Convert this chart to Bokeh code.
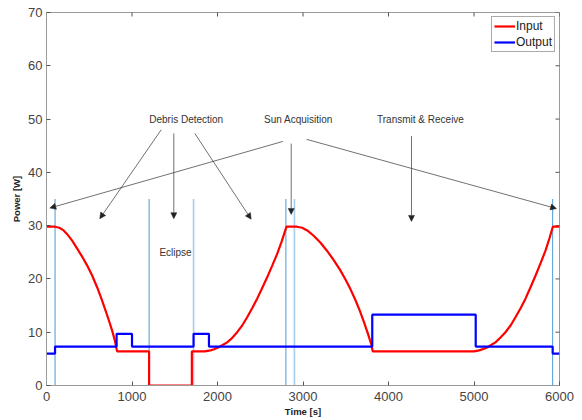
import math
from bokeh.plotting import figure
from bokeh.models import (Arrow, NormalHead, ColumnDataSource, Range1d,
                          Legend, LegendItem)
from bokeh.core.properties import value
from bokeh.embed import file_html
from bokeh.resources import INLINE

# ---------------- data ----------------
input_t = [0, 100, 150, 200, 242, 300, 359, 420, 476, 535, 593, 640, 690, 730, 768, 800, 826,
           1200, 1200, 1700, 1700, 1850, 1918, 1960, 2015, 2060, 2113, 2170, 2230, 2290, 2347,
           2405, 2464, 2520, 2581, 2640, 2698, 2750, 2807, 2930, 2990, 3049, 3125, 3205, 3280,
           3361, 3430, 3497, 3560, 3614, 3665, 3711, 3760, 3801, 3815, 5000, 5060, 5135, 5190,
           5251, 5310, 5368, 5430, 5485, 5545, 5602, 5660, 5719, 5780, 5836, 5880, 5922, 6000]
input_p = [29.8, 29.8, 29.6, 29.1, 28.4, 27.2, 25.7, 24.1, 22.5, 20.6, 18.4, 16.4, 14.1, 12.2,
           10.3, 8.4, 6.4,
           6.4, 0.0, 0.0, 6.4, 6.4, 6.6, 6.8, 7.2, 7.6, 8.1, 8.9, 10.0, 11.3, 12.8,
           14.5, 16.3, 18.2, 20.3, 22.5, 24.7, 27.0, 29.8, 29.8, 29.6, 29.1, 28.1, 26.8, 25.3,
           23.5, 21.8, 19.9, 17.9, 16.0, 14.0, 12.0, 9.7, 7.6, 6.4, 6.4, 6.6, 7.0, 7.5,
           8.1, 9.0, 10.0, 11.3, 12.8, 14.5, 16.3, 18.4, 20.6, 23.0, 25.3, 27.5, 29.8, 29.8]

output_t = [0, 100, 820, 1000, 1720, 1900, 3810, 5020, 5920, 6000]
output_p = [6.0, 7.3, 9.7, 7.3, 9.7, 7.3, 13.3, 7.3, 6.0, 6.0]

event_strong = [100, 1200, 2800, 5920]
event_faint = [1720, 2900]
event_top = 35

annot_text = ["Debris Detection", "Sun Acquisition", "Transmit & Receive", "Eclipse"]
annot_x = [1634, 2947, 4374, 1509]
annot_y = [50, 50, 50, 25]

arrow_x0 = [1342, 1489, 1735, 2764, 2862, 3041, 4269]
arrow_y0 = [48.0, 47.3, 47.3, 45.8, 45.4, 46.2, 46.8]
arrow_x1 = [623, 1489, 2394, 39, 2862, 5965, 4269]
arrow_y1 = [31.3, 31.3, 31.2, 33.3, 32.1, 33.2, 30.8]

x_ticks = [0, 1000, 2000, 3000, 4000, 5000, 6000]
y_ticks = [0, 10, 20, 30, 40, 50, 60, 70]

X_MIN, X_MAX = 0, 6000
Y_MIN, Y_MAX = 0, 70

FONT = "Liberation Sans"
AX = "#9a9a9a"
TXT = "#444444"

p = figure(width=582, height=420, x_range=Range1d(X_MIN, X_MAX), y_range=Range1d(Y_MIN, Y_MAX),
           output_backend="svg", toolbar_location=None,
           min_border_left=46, min_border_top=12, min_border_right=23, min_border_bottom=35)
p.xgrid.visible = False
p.ygrid.visible = False
p.outline_line_color = AX
p.background_fill_color = "white"

for ax, lab in ((p.xaxis[0], "Time [s]"), (p.yaxis[0], "Power [W]")):
    ax.axis_label = lab
    ax.axis_label_text_font = FONT
    ax.axis_label_text_font_style = "bold"
    ax.axis_label_text_font_size = "9.5px"
    ax.axis_label_text_color = "#222222"
    ax.major_label_text_font = FONT
    ax.major_label_text_font_size = "13px"
    ax.major_label_text_color = TXT
    ax.major_tick_in = 4
    ax.major_tick_out = 0
    ax.minor_tick_in = 0
    ax.minor_tick_out = 0
    ax.axis_line_color = AX
    ax.major_tick_line_color = "#555555"
p.xaxis.ticker = x_ticks
p.yaxis.ticker = y_ticks
p.xaxis.major_label_standoff = 6
p.xaxis.axis_label_standoff = 2
p.yaxis.major_label_standoff = 4
p.yaxis.axis_label_standoff = 3

# mirrored tick marks on the top and right edges of the box (clipped to the frame)
p.scatter(x=x_ticks, y=[Y_MAX] * len(x_ticks), marker="dash", angle=math.pi / 2, size=8,
          line_color="#555555", line_width=1)
p.scatter(x=[X_MAX] * len(y_ticks), y=y_ticks, marker="dash", size=8,
          line_color="#555555", line_width=1)

# event lines
p.segment(x0=event_strong, x1=event_strong, y0=[0] * len(event_strong),
          y1=[event_top] * len(event_strong), line_color="#4b9ad6", line_width=1)
p.segment(x0=event_faint, x1=event_faint, y0=[0] * len(event_faint),
          y1=[event_top] * len(event_faint), line_color="#a8cdea", line_width=1.6)

r_in = p.line(input_t, input_p, line_color="#ff0000", line_width=2.2)
r_out = p.step(output_t, output_p, mode="after", line_color="#0000ff", line_width=2.2)

# annotations
arr_src = ColumnDataSource(dict(x0=arrow_x0, y0=arrow_y0, x1=arrow_x1, y1=arrow_y1))
p.add_layout(Arrow(source=arr_src, x_start="x0", y_start="y0", x_end="x1", y_end="y1",
                   line_color="#333333", line_width=0.7,
                   end=NormalHead(size=6, fill_color="#222222", line_color="#222222",
                                  line_width=0.5)))

p.text(x=annot_x, y=annot_y, text=annot_text, text_font=value(FONT),
       text_font_size="10px", text_color="#333333", text_align="center",
       text_baseline="middle")

legend = Legend(items=[LegendItem(label="Input", renderers=[r_in]),
                       LegendItem(label="Output", renderers=[r_out])],
                location="top_right", margin=4, padding=2, spacing=2,
                glyph_width=21, glyph_height=14, label_standoff=1,
                label_height=14,
                label_text_font=FONT, label_text_font_size="12px",
                label_text_color="#222222",
                border_line_color="#555555", border_line_width=0.8,
                background_fill_color="white", background_fill_alpha=1)
p.add_layout(legend)

open("out.html", "w").write(file_html(p, INLINE))
